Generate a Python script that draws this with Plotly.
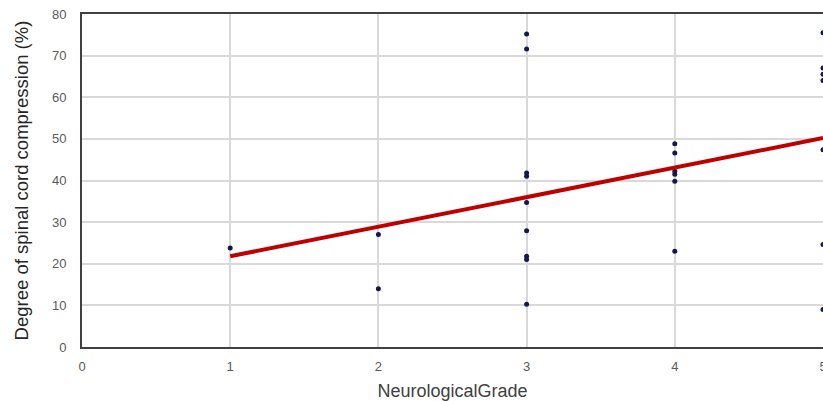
import plotly.graph_objects as go

# Data
grade = [1,
         2, 2,
         3, 3, 3, 3, 3, 3, 3, 3, 3,
         4, 4, 4, 4, 4, 4,
         5, 5, 5, 5, 5, 5, 5]
compression = [23.8,
               27.0, 14.0,
               75.2, 71.6, 41.8, 41.0, 34.7, 27.9, 21.8, 21.0, 10.3,
               48.8, 46.6, 42.2, 41.5, 39.8, 23.0,
               75.5, 67.0, 65.5, 64.0, 47.4, 24.6, 9.0]
trend_x = [1, 5]
trend_y = [21.8, 50.2]

x_ticks = [0, 1, 2, 3, 4, 5]
y_ticks = [0, 10, 20, 30, 40, 50, 60, 70, 80]

fig = go.Figure()
fig.add_trace(go.Scatter(
    x=grade, y=compression, mode="markers",
    marker=dict(size=5, color="#14194a"),
    cliponaxis=False, showlegend=False))
fig.add_trace(go.Scatter(
    x=trend_x, y=trend_y, mode="lines",
    line=dict(color="#c00000", width=4),
    showlegend=False))

fig.update_layout(
    width=823, height=401,
    margin=dict(l=82, r=0, t=14, b=54),
    paper_bgcolor="white", plot_bgcolor="white",
    font=dict(family="Liberation Sans, Arial, sans-serif", color="#595959"),
    xaxis=dict(
        range=[0, 5], tickvals=x_ticks, ticktext=[str(v) for v in x_ticks],
        showgrid=True, gridcolor="#d9d9d9", gridwidth=1.5,
        showline=True, linecolor="#404040", linewidth=1.8, mirror=True,
        zeroline=False, ticks="", tickfont=dict(size=13, color="#595959"),
        ticklabelstandoff=6, ticklabeloverflow="allow", automargin=False,
        title=dict(text="NeurologicalGrade", font=dict(size=18, color="#404040"), standoff=12),
    ),
    yaxis=dict(
        range=[0, 80], tickvals=y_ticks, ticktext=[str(v) for v in y_ticks],
        showgrid=True, gridcolor="#d9d9d9", gridwidth=1.5,
        showline=True, linecolor="#404040", linewidth=1.8, mirror=False,
        zeroline=False, ticks="", tickfont=dict(size=13, color="#595959"),
        ticklabelstandoff=11, automargin=False,
        title=dict(text="Degree of spinal cord compression (%)", font=dict(size=18.5, color="#262626"), standoff=19),
    ),
)

fig.write_html("out.html")
